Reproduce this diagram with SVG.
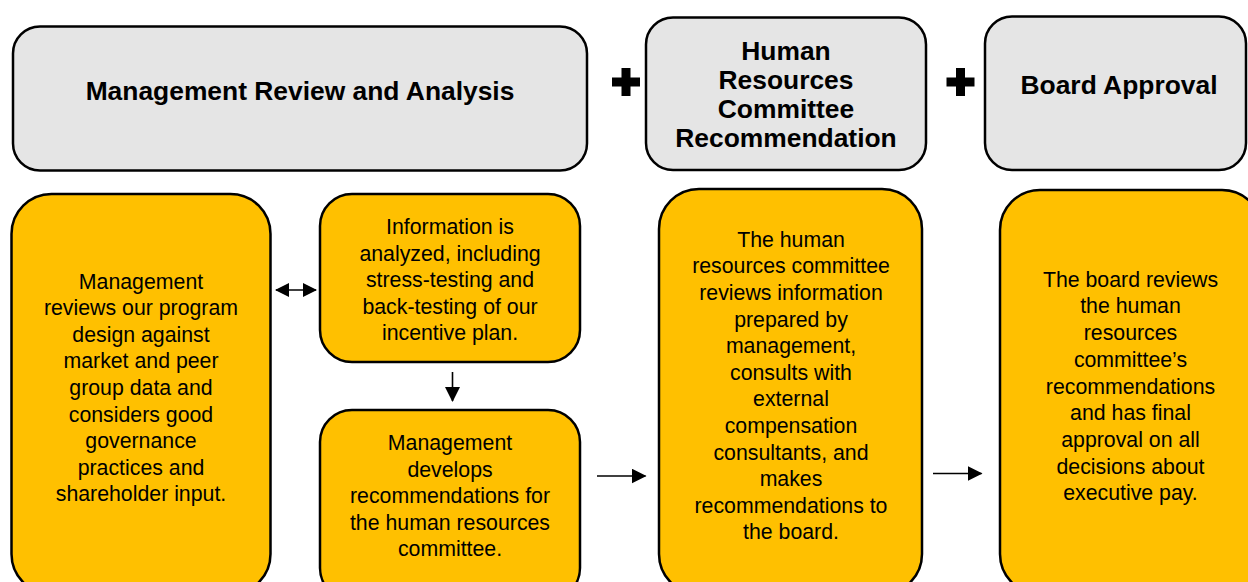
<svg xmlns="http://www.w3.org/2000/svg" width="1248" height="582" viewBox="0 0 1248 582">
<defs>
<style>
.hdr{fill:#e5e5e5;stroke:#000;stroke-width:2.5}
.box{fill:#ffc000;stroke:#000;stroke-width:2.5}
.ht{font-family:"Liberation Sans",Arial,sans-serif;font-weight:bold;font-size:26.4px;fill:#000;text-anchor:middle}
.bt{font-family:"Liberation Sans",Arial,sans-serif;font-size:21.3px;fill:#000;text-anchor:middle}
.con{stroke:#000;stroke-width:1.6;fill:none}
.plus{fill:#000}
</style>
<marker id="ah" markerUnits="userSpaceOnUse" markerWidth="15" markerHeight="15" refX="14" refY="7.5" orient="auto-start-reverse">
<path d="M0,0 L15,7.5 L0,15 z" fill="#000"/>
</marker>
<marker id="ahs" markerUnits="userSpaceOnUse" markerWidth="14" markerHeight="14" refX="13" refY="7" orient="auto-start-reverse">
<path d="M0,0 L14,7 L0,14 z" fill="#000"/>
</marker>
</defs>

<g id="header-management">
<rect class="hdr" x="13" y="26.5" width="574" height="144" rx="27"/>
<text class="ht" x="300" y="100">Management Review and Analysis</text>
</g>
<g id="plus-1">
<path class="plus" d="M621.5,68 h9 v9.5 h9.5 v9 h-9.5 v9.5 h-9 v-9.5 h-9.5 v-9 h9.5 z"/>
</g>
<g id="header-hr">
<rect class="hdr" x="646" y="17.5" width="280" height="152.5" rx="27"/>
<text class="ht" x="786" y="60">Human</text>
<text class="ht" x="786" y="89">Resources</text>
<text class="ht" x="786" y="118">Committee</text>
<text class="ht" x="786" y="147">Recommendation</text>
</g>
<g id="plus-2">
<path class="plus" d="M956,68 h9 v9.5 h9.5 v9 h-9.5 v9.5 h-9 v-9.5 h-9.5 v-9 h9.5 z"/>
</g>
<g id="header-board">
<rect class="hdr" x="985" y="16.5" width="261" height="153.5" rx="27"/>
<text class="ht" x="1119" y="94">Board Approval</text>
</g>

<g id="box-mgmt-review">
<rect class="box" x="11.5" y="194" width="259" height="400" rx="40"/>
<text class="bt" x="141" y="288.5">Management</text>
<text class="bt" x="141" y="315.1">reviews our program</text>
<text class="bt" x="141" y="341.7">design against</text>
<text class="bt" x="141" y="368.3">market and peer</text>
<text class="bt" x="141" y="394.9">group data and</text>
<text class="bt" x="141" y="421.5">considers good</text>
<text class="bt" x="141" y="448.1">governance</text>
<text class="bt" x="141" y="474.7">practices and</text>
<text class="bt" x="141" y="501.3">shareholder input.</text>
</g>

<g id="box-analysis">
<rect class="box" x="320" y="194" width="260" height="168" rx="32"/>
<text class="bt" x="450" y="234.3">Information is</text>
<text class="bt" x="450" y="260.8">analyzed, including</text>
<text class="bt" x="450" y="287.3">stress-testing and</text>
<text class="bt" x="450" y="313.8">back-testing of our</text>
<text class="bt" x="450" y="340.3">incentive plan.</text>
</g>

<g id="box-develops">
<rect class="box" x="320" y="410" width="260" height="190" rx="32"/>
<text class="bt" x="450" y="450">Management</text>
<text class="bt" x="450" y="476.5">develops</text>
<text class="bt" x="450" y="503">recommendations for</text>
<text class="bt" x="450" y="529.5">the human resources</text>
<text class="bt" x="450" y="556">committee.</text>
</g>

<g id="box-hr">
<rect class="box" x="659" y="189" width="263" height="405" rx="40"/>
<text class="bt" x="791" y="246.7">The human</text>
<text class="bt" x="791" y="273.3">resources committee</text>
<text class="bt" x="791" y="299.9">reviews information</text>
<text class="bt" x="791" y="326.5">prepared by</text>
<text class="bt" x="791" y="353.1">management,</text>
<text class="bt" x="791" y="379.7">consults with</text>
<text class="bt" x="791" y="406.3">external</text>
<text class="bt" x="791" y="432.9">compensation</text>
<text class="bt" x="791" y="459.5">consultants, and</text>
<text class="bt" x="791" y="486.1">makes</text>
<text class="bt" x="791" y="512.7">recommendations to</text>
<text class="bt" x="791" y="539.3">the board.</text>
</g>

<g id="box-board">
<rect class="box" x="1000" y="190" width="262" height="404" rx="40"/>
<text class="bt" x="1130.5" y="286.7">The board reviews</text>
<text class="bt" x="1130.5" y="313.4">the human</text>
<text class="bt" x="1130.5" y="340.1">resources</text>
<text class="bt" x="1130.5" y="366.8">committee’s</text>
<text class="bt" x="1130.5" y="393.5">recommendations</text>
<text class="bt" x="1130.5" y="420.2">and has final</text>
<text class="bt" x="1130.5" y="446.9">approval on all</text>
<text class="bt" x="1130.5" y="473.6">decisions about</text>
<text class="bt" x="1130.5" y="500.3">executive pay.</text>
</g>

<g id="connectors">
<line class="con" x1="276" y1="290" x2="316" y2="290" marker-start="url(#ahs)" marker-end="url(#ahs)"/>
<line class="con" x1="452.5" y1="372" x2="452.5" y2="401" marker-end="url(#ah)"/>
<line class="con" x1="597" y1="476" x2="645.5" y2="476" marker-end="url(#ah)"/>
<line class="con" x1="933" y1="473.5" x2="981.5" y2="473.5" marker-end="url(#ah)"/>
</g>
</svg>
